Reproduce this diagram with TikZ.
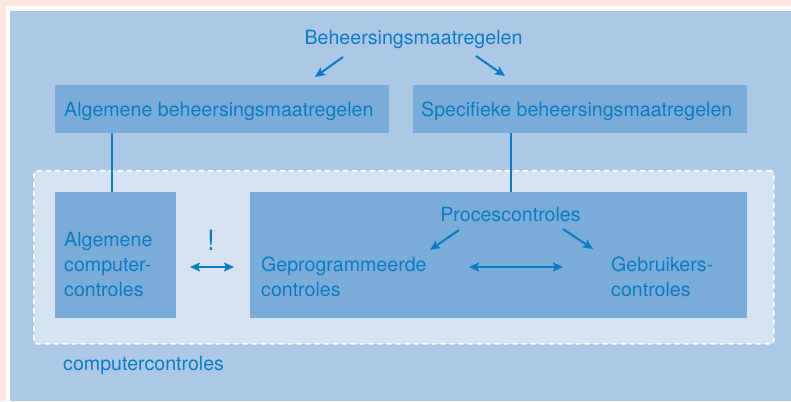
\documentclass[tikz,border=0pt]{standalone}
\usepackage{fontspec}
\setmainfont{TeX Gyre Heros}
\usetikzlibrary{arrows.meta}
\definecolor{pinkbg}{HTML}{FDE6DF}
\definecolor{bluebg}{HTML}{ADC8E6}
\definecolor{boxblue}{HTML}{7AACDA}
\definecolor{paleblue}{HTML}{D6E3F3}
\definecolor{txt}{HTML}{0B7CC2}
\tikzset{
  box/.style={fill=boxblue, draw=none, inner sep=0pt, anchor=north west},
  lbl/.style={text=txt, inner sep=0pt, font=\fontsize{19.6}{25}\selectfont},
  arr/.style={draw=txt, line width=2pt, -{Stealth[length=10pt,width=9pt,inset=2pt]}},
  darr/.style={draw=txt, line width=2pt, {Stealth[length=10pt,width=9pt,inset=2pt]}-{Stealth[length=10pt,width=9pt,inset=2pt]}},
  link/.style={draw=txt, line width=2pt},
}
\begin{document}
\begin{tikzpicture}[x=1pt,y=-1pt]
\useasboundingbox (0,0) rectangle (791,401);
\fill[pinkbg] (0,0) rectangle (791,401);
\fill[white] (6,6) rectangle (791,401);
\fill[bluebg] (10,11) rectangle (791,401);
% dashed computer area
\node[fill=paleblue, draw=white, line width=1.5pt, dash pattern=on 5pt off 4pt, rounded corners=3pt,
      minimum width=740pt, minimum height=173pt, anchor=north west, inner sep=0pt] (area) at (33,170) {};
% boxes
\node[box, minimum width=334pt, minimum height=48pt] (alg) at (55,85) {};
\node[box, minimum width=334pt, minimum height=48pt] (spec) at (413,85) {};
\node[box, minimum width=121pt, minimum height=126pt] (comp) at (55,192) {};
\node[box, minimum width=497pt, minimum height=126pt] (proc) at (250,192) {};
% texts
\node[lbl, anchor=base] (title) at (413.5,45) {Beheersingsmaatregelen};
\node[lbl, anchor=base west] (algt) at (64,116) {Algemene beheersingsmaatregelen};
\node[lbl, anchor=base west] (spect) at (421,116) {Specifieke beheersingsmaatregelen};
\node[lbl, anchor=base west] (compt1) at (64,246) {Algemene};
\node[lbl, anchor=base west] (compt2) at (64,271) {computer-};
\node[lbl, anchor=base west] (compt3) at (64,296) {controles};
\node[lbl, anchor=base, font=\fontsize{28}{30}\selectfont] (excl) at (211,250) {!};
\node[lbl, anchor=base] (proct) at (510.5,221) {Procescontroles};
\node[lbl, anchor=base west] (gep1) at (261,271) {Geprogrammeerde};
\node[lbl, anchor=base west] (gep2) at (261,296) {controles};
\node[lbl, anchor=base west] (geb1) at (611,271) {Gebruikers-};
\node[lbl, anchor=base west] (geb2) at (611,296) {controles};
\node[lbl, anchor=base west] (cc) at (63,370) {computercontroles};
% connector points
\coordinate (lx) at (112,0);
\coordinate (t1s) at (343,57); \coordinate (t1e) at (315,77);
\coordinate (t2s) at (476,56); \coordinate (t2e) at (505,76);
\coordinate (p1s) at (459,230); \coordinate (p1e) at (430,250);
\coordinate (p2s) at (563,229); \coordinate (p2e) at (593,249);
\coordinate (c1) at (190,267); \coordinate (c2) at (234,267);
\coordinate (m1) at (469,267); \coordinate (m2) at (563,267);
% connectors
\draw[link] (alg.south -| lx) -- (comp.north -| lx);
\draw[link] (spec.south -| proct) -- (proc.north -| proct);
\draw[arr] (t1s) -- (t1e);
\draw[arr] (t2s) -- (t2e);
\draw[arr] (p1s) -- (p1e);
\draw[arr] (p2s) -- (p2e);
\draw[darr] (c1) -- (c2);
\draw[darr] (m1) -- (m2);
\end{tikzpicture}
\end{document}
